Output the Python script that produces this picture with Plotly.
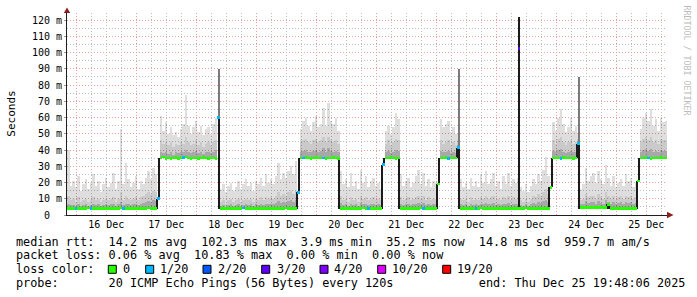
import plotly.graph_objects as go
import pandas as pd

# ------------------------------------------------------------------ data
bin_first = "2025-12-15 20:48"      # centre of first hourly bin
n_bins = 240
x_start, x_end = "2025-12-15 20:16:48", "2025-12-25 20:16:48"

# median RTT per hourly bin (ms)
median_ms = (
    [4.0,4.1,4.0,3.9,4.0,4.1,4.0,4.0,4.2,4.0,3.9,4.0,4.1,4.0,4.0,4.1,4.0,3.9,4.0,4.0,
     4.1,4.2,4.0,4.0,4.1,4.0,3.9,4.0,4.1,4.0,4.0,4.1,4.2,4.0,4.1,4.0]
    + [10.0]
    + [35.2,35.6,34.8,35.0,34.6,35.1,35.3,34.9,35.0,35.4,35.8,35.1,34.9,35.2,35.0,34.8,
       35.1,35.3,35.0,34.9,35.2,35.0,34.7]
    + [60.0]
    + [4.0,4.1,4.0,4.0,3.9,4.0,4.1,4.0,4.0,4.2,4.0,4.1,4.0,3.9,4.0,4.0,4.1,4.0,4.0,4.1,
       4.0,3.9,4.0,4.1,4.0,4.0,4.2,4.1,4.0,4.0,4.1]
    + [14.0]
    + [35.0,35.2,35.4,35.1,34.9,35.0,35.3,35.1,35.0,35.2,34.8,35.0,35.1,35.3,35.0,34.9]
    + [4.0,4.1,4.0,4.0,3.9,4.0,4.1,4.0,4.0,4.2,4.0,4.1,4.0,4.0,3.9,4.0,4.1]
    + [31.0]
    + [35.2,35.0,35.3,35.1,34.9,35.0]
    + [4.0,4.1,4.0,3.9,4.0,4.0,4.1,4.0,4.2,4.0,4.1,4.0,4.0,3.9,4.0]
    + [19.0]
    + [35.1,35.0,35.3,34.9,35.2,35.0,35.1]
    + [41.4]
    + [4.0,4.1,4.0,4.0,3.9,4.1,4.0,4.0,4.2,4.0,4.1,4.0,3.9,4.0,4.0,4.1,4.0,4.0,4.1,4.0,
       3.9,4.0,4.0,4.1,4.0,4.0,4.2,4.0,4.1,4.0,4.0,3.9,4.0,4.1,4.0,4.0]
    + [17.0]
    + [35.0,35.2,35.1,34.9,35.3,35.0,35.1,35.2,34.9,35.0]
    + [44.0]
    + [4.6,4.7,4.6,4.5,4.7,4.6,4.6,4.8,4.6,4.5,4.7,6.5,4.0,3.9,4.0,4.1,4.0,4.0,3.9,4.1,
       4.0,4.0,4.1]
    + [21.0]
    + [35.0,35.1,35.3,35.0,34.9,35.2,35.1,35.0,35.3,35.1,35.2]
)

# top of the light smoke (max ping) per bin (ms)
smoke_max_ms = (
    [40,18,21,17,24,15,19,22,16,20,25,18,21,14,19,23,17,20,26,16,21,53,19,32,22,17,20,24,16,21,
     19,23,27,22,29,25]
    + [10]
    + [61,52,57,50,54,49,51,48,53,56,74,55,50,54,58,51,55,49,53,54,50,56,60]
    + [60]
    + [16,19,14,18,20,15,17,21,16,19,22,18,20,15,21,19,23,18,25,20,22,19,24,32,22,26,23,27,30,25,33]
    + [14]
    + [53,58,60,55,52,57,61,54,56,66,55,69,58,56,60,52]
    + [27,19,22,17,26,18,21,16,28,20,24,17,21,23,18,20,16]
    + [31]
    + [52,55,50,54,63,59]
    + [25,18,21,23,17,20,24,28,19,26,18,22,17,21,20]
    + [19]
    + [59,54,56,58,51,54,50]
    + [50]
    + [22,17,20,16,23,18,21,17,25,20,27,19,22,26,18,21,16,24,19,26,18,22,20,23,17,15,19,14,18,22,
       19,25,21,28,36,24]
    + [17]
    + [57,52,60,65,56,51,54,60,52,55]
    + [50]
    + [16,19,29,21,24,26,20,27,22,19,31,23,18,24,17,20,22,18,25,21,23,17,20]
    + [21]
    + [53,60,63,58,65,55,59,52,60,57,58]
)

# top of the medium smoke band per bin (ms)
smoke_mid_ms = (
    [12,9,10,8,11,8,9,10,8,9,11,9,10,8,9,10,9,10,11,8,10,14,9,12,10,9,10,11,9,11,12,13,14,13,15,14]
    + [10]
    + [46,44,45,43,45,42,44,43,45,44,48,45,43,44,46,43,45,42,44,45,43,45,46]
    + [60]
    + [8,9,7,9,10,8,9,10,8,9,10,9,10,8,10,9,11,9,11,10,11,10,12,14,12,13,12,14,15,13,15]
    + [14]
    + [45,46,47,45,44,46,47,45,46,48,45,48,46,45,46,44]
    + [12,9,10,8,11,9,10,8,12,10,11,9,10,11,9,10,9]
    + [31]
    + [44,46,43,45,47,46]
    + [11,9,10,11,9,10,11,12,10,12,9,11,9,10,10]
    + [19]
    + [46,44,45,46,43,45,43]
    + [46]
    + [10,9,10,8,11,9,10,9,11,10,12,10,11,12,9,10,9,11,10,12,9,11,10,11,9,8,10,8,10,12,
       11,13,12,14,16,13]
    + [17]
    + [46,44,47,48,45,43,45,46,44,45]
    + [47]
    + [9,10,13,11,12,12,10,13,11,10,14,12,10,12,9,11,12,10,12,11,12,10,11]
    + [21]
    + [45,47,48,46,48,45,46,44,47,46,46]
)

# top of the dark smoke core per bin (ms)
smoke_dark_ms = (
    [7,6,6,5.5,6.5,5.5,6,6.5,5.5,6,7,6,6.5,5.5,6,6.5,6,6.5,7,5.5,6.5,8,6,7,6.5,6,6.5,7,6,7,
     7.5,8,8.5,8,9,8.5]
    + [10]
    + [39,38,39,37.5,39,37,38.5,38,39,38.5,40,39,38,38.5,39.5,38,39,37.5,38.5,39,38,39,40]
    + [60]
    + [5.5,6,5,6,6.5,5.5,6,6.5,5.5,6,6.5,6,6.5,5.5,6.5,6,7,6,7,6.5,7,6.5,7.5,8.5,7.5,8,7.5,8.5,9,8,9]
    + [14]
    + [39,39.5,40,39,38.5,39.5,40,39,39.5,41,39,41,39.5,39,39.5,38.5]
    + [7.5,6,6.5,5.5,7,6,6.5,5.5,7.5,6.5,7,6,6.5,7,6,6.5,6]
    + [31]
    + [38.5,39.5,38,39,40,39.5]
    + [7,6,6.5,7,6,6.5,7,7.5,6.5,7.5,6,7,6,6.5,6.5]
    + [19]
    + [39.5,38.5,39,39.5,38,39,38]
    + [43]
    + [6.5,6,6.5,5.5,7,6,6.5,6,7,6.5,7.5,6.5,7,7.5,6,6.5,6,7,6.5,7.5,6,7,6.5,7,6,5.5,6.5,5.5,6.5,7.5,
       7,8,7.5,8.5,9.5,8]
    + [17]
    + [39.5,38.5,40,40.5,39,38,39,39.5,38.5,39]
    + [45]
    + [6.5,7,8.5,7.5,8,8,7,8.5,7.5,7,9,8,7,8,6.5,7.5,8,7,8,7.5,8,7,7.5]
    + [21]
    + [39,40,40.5,39.5,40.5,39,39.5,38.5,40,39.5,39.5]
)

# bins with lost pings (index of bin, pings lost out of 20)
loss_bins   = [3, 9, 22, 36, 46, 60, 70, 92, 94, 102, 120, 126, 142, 152, 156, 163, 197, 204, 232]
loss_counts = [1, 1, 1,  1,  1,  1,  1,  1,  1,  1,   1,   1,   1,   1,   1,   1,   1,   1,   1]

# steep transitions of the median (time, from, to) in ms
jump_times = ["2025-12-17 08:18", "2025-12-17 09:18", "2025-12-18 09:18",
              "2025-12-19 16:18", "2025-12-19 17:18", "2025-12-20 09:18",
              "2025-12-21 02:18", "2025-12-21 03:18", "2025-12-21 09:18",
              "2025-12-22 00:18", "2025-12-22 01:18", "2025-12-22 08:18",
              "2025-12-22 09:18", "2025-12-23 09:12", "2025-12-23 21:18",
              "2025-12-23 22:18", "2025-12-24 08:18", "2025-12-24 09:18",
              "2025-12-24 20:18", "2025-12-24 21:18", "2025-12-25 08:18",
              "2025-12-25 09:18"]
jump_lo = [4.0, 10.0, 4.0, 4.0, 14.0, 4.0, 4.0, 31.0, 4.0, 4.0, 19.0, 35.0, 4.0, 4.0,
           4.0, 17.0, 35.0, 4.0, 4.0, 4.0, 4.0, 21.0]
jump_hi = [10.0, 35.0, 60.0, 14.0, 35.0, 35.0, 31.0, 35.0, 35.0, 19.0, 35.0, 41.0, 41.0, 122.0,
           17.0, 35.0, 44.0, 44.0, 6.5, 6.5, 21.0, 35.0]

# isolated max-ping spikes (time, from, to) in ms
spike_times = ["2025-12-18 09:18", "2025-12-22 09:18", "2025-12-24 09:18"]
spike_lo = [60.0, 41.0, 44.0]
spike_hi = [90.0, 90.0, 85.0]

# median of the big spike bin
peak_times = ["2025-12-23 09:12"]
peak_ms = [102.3]
peak_loss = [3]

loss_thresholds = [0, 1, 2, 3, 4, 10, 19]
loss_labels = ["0", "1/20", "2/20", "3/20", "4/20", "10/20", "19/20"]
loss_colors = ["#26ff00", "#00b8ff", "#0059ff", "#5e00ff", "#7e00ff", "#dd00ff", "#ff0000"]

ytick_vals = [0, 10, 20, 30, 40, 50, 60, 70, 80, 90, 100, 110, 120]
ytick_text = ["0\u00a0\u00a0", "10 m", "20 m", "30 m", "40 m", "50 m", "60 m", "70 m",
              "80 m", "90 m", "100 m", "110 m", "120 m"]

legend_lines = [
    "median rtt:  14.2 ms avg  102.3 ms max  3.9 ms min  35.2 ms now  14.8 ms sd  959.7 m am/s",
    "packet loss: 0.06 % avg  10.83 % max  0.00 % min  0.00 % now",
    "probe:       20 ICMP Echo Pings (56 Bytes) every 120s            end: Thu Dec 25 19:48:06 2025",
]

assert len(median_ms) == n_bins and len(smoke_max_ms) == n_bins
assert len(smoke_mid_ms) == n_bins and len(smoke_dark_ms) == n_bins

# ------------------------------------------------------------------ helpers
def loss_color(cnt):
    c = loss_colors[0]
    for th, col in zip(loss_thresholds, loss_colors):
        if cnt >= th:
            c = col
    return c

times = pd.date_range(bin_first, periods=n_bins, freq="h")
loss_per_bin = [0] * n_bins
for b, c in zip(loss_bins, loss_counts):
    loss_per_bin[b] = c

HOUR = 3600 * 1000
MONO = "DejaVu Sans Mono"

W, H = 697, 297
L, T, PW, PH = 67, 13, 600, 202
def xp(px):
    return (px - L) / PW
def yp(py):
    return (T + PH - py) / PH

fig = go.Figure()

def band(top, color):
    fig.add_trace(go.Bar(
        x=times, base=median_ms,
        y=[max(0.0, t - m) for t, m in zip(top, median_ms)],
        width=HOUR, marker=dict(color=color, line=dict(width=0)),
        hoverinfo="skip", showlegend=False))

band(smoke_max_ms, "rgba(0,0,0,0.13)")
band(smoke_mid_ms, "rgba(0,0,0,0.09)")
band(smoke_dark_ms, "rgba(0,0,0,0.17)")

fig.add_trace(go.Bar(
    x=pd.to_datetime(spike_times), base=spike_lo,
    y=[h - l for h, l in zip(spike_hi, spike_lo)],
    width=0.45 * HOUR, marker=dict(color="#7a7a7a", line=dict(width=0)),
    hoverinfo="skip", showlegend=False))

fig.add_trace(go.Bar(
    x=pd.to_datetime(jump_times), base=jump_lo,
    y=[h - l for h, l in zip(jump_hi, jump_lo)],
    width=0.6 * HOUR, marker=dict(color="#1a1a1a", line=dict(width=0)),
    hoverinfo="skip", showlegend=False))

fig.add_trace(go.Bar(
    x=times, base=[m - 0.8 for m in median_ms], y=[1.6] * n_bins,
    width=HOUR, marker=dict(color=[loss_color(c) for c in loss_per_bin], line=dict(width=0)),
    hoverinfo="skip", showlegend=False))

fig.add_trace(go.Bar(
    x=pd.to_datetime(peak_times), base=[v - 0.8 for v in peak_ms], y=[1.6] * len(peak_ms),
    width=0.6 * HOUR, marker=dict(color=[loss_color(c) for c in peak_loss], line=dict(width=0)),
    hoverinfo="skip", showlegend=False))

GRID = "#bdbdbd"
MGRID = "#e6a0a0"
DASH = "1px,2px"

fig.update_layout(
    width=W, height=H, margin=dict(l=L, r=W - L - PW, t=T, b=H - T - PH),
    paper_bgcolor="white", plot_bgcolor="white",
    barmode="overlay", bargap=0, showlegend=False,
    font=dict(family=MONO, size=10, color="#000000"),
    xaxis=dict(
        type="date", range=[x_start, x_end],
        tick0="2025-12-16", dtick=86400000, ticklabelmode="period", tickformat="%d %b",
        showgrid=True, gridcolor=MGRID, griddash=DASH, gridwidth=1,
        minor=dict(tick0="2025-12-16", dtick=6 * HOUR, showgrid=True,
                   gridcolor=GRID, griddash=DASH, gridwidth=1),
        showline=True, linecolor="#1f1f1f", linewidth=1, zeroline=False,
        ticks="", tickfont=dict(family=MONO, size=10, color="#000000"),
        fixedrange=True),
    yaxis=dict(
        range=[0, PH / 1.625], tickmode="array", tickvals=ytick_vals, ticktext=ytick_text,
        showgrid=True, gridcolor=MGRID, griddash=DASH, gridwidth=1,
        minor=dict(dtick=5, tick0=0, showgrid=True, gridcolor=GRID, griddash=DASH, gridwidth=1),
        showline=True, linecolor="#1f1f1f", linewidth=1, zeroline=False,
        ticks="outside", ticklen=2, tickcolor="#999999",
        tickfont=dict(family=MONO, size=10, color="#000000"),
        fixedrange=True),
)

ann = []
ann.append(dict(text="Seconds", x=xp(10.7), y=yp(114), xref="paper", yref="paper",
                textangle=-90, showarrow=False, font=dict(family=MONO, size=11, color="#000"),
                xanchor="center", yanchor="middle"))
ann.append(dict(text="RRDTOOL / TOBI OETIKER", x=xp(686.5), y=yp(60), xref="paper", yref="paper",
                textangle=90, showarrow=False, font=dict(family=MONO, size=8.3, color="#bdbdbd"),
                xanchor="center", yanchor="middle"))

line_y = [241.7, 255.0, 283.3]
for txt, ly in zip(legend_lines, line_y):
    ann.append(dict(text=txt.replace(" ", "\u00a0"), x=xp(14.2), y=yp(ly), xref="paper",
                    yref="paper", showarrow=False, xanchor="left", yanchor="middle",
                    font=dict(family=MONO, size=11.83, color="#000")))

ann.append(dict(text="loss\u00a0color:", x=xp(14.2), y=yp(269), xref="paper", yref="paper",
                showarrow=False, xanchor="left", yanchor="middle",
                font=dict(family=MONO, size=11.83, color="#000")))

box_left = [108.3, 145.7, 203.0, 261.7, 320.0, 377.7, 442.7]
label_left = [121.4, 158.2, 216.2, 274.9, 331.7, 389.9, 454.9]
shapes = []
for bl, ll, lab, col in zip(box_left, label_left, loss_labels, loss_colors):
    shapes.append(dict(type="rect", xref="paper", yref="paper",
                       x0=xp(bl), x1=xp(bl + 8), y0=yp(273.3), y1=yp(265.3),
                       fillcolor=col, line=dict(color="#000", width=1)))
    ann.append(dict(text=lab, x=xp(ll), y=yp(269), xref="paper", yref="paper",
                    showarrow=False, xanchor="left", yanchor="middle",
                    font=dict(family=MONO, size=11.83, color="#000")))

ARROW = "#8b1f1f"
shapes.append(dict(type="path", xref="paper", yref="paper",
                   path=f"M {xp(63.8)} {yp(13)} L {xp(70.2)} {yp(13)} L {xp(67)} {yp(7.5)} Z",
                   fillcolor=ARROW, line=dict(width=0)))
shapes.append(dict(type="path", xref="paper", yref="paper",
                   path=f"M {xp(667)} {yp(211.8)} L {xp(667)} {yp(218.2)} L {xp(673.5)} {yp(215)} Z",
                   fillcolor=ARROW, line=dict(width=0)))

fig.update_layout(annotations=ann, shapes=shapes)

fig.write_html("out.html", config={"displayModeBar": False})
